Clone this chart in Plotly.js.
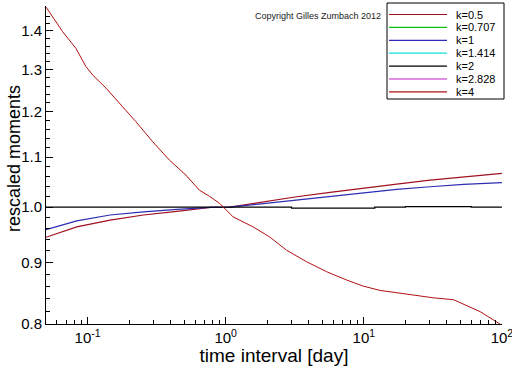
<!DOCTYPE html>
<html>
<head>
<meta charset="utf-8">
<script src="https://cdn.plot.ly/plotly-3.0.1.min.js"></script>
<style>html,body{margin:0;padding:0;background:#fff;}#chart{width:512px;height:366px;}</style>
</head>
<body>
<div id="chart"></div>
<script>
// k = 0.5 (rising dark-red curve)
const xK05 = [0.05, 0.0834, 0.1456, 0.254, 0.443, 0.774, 1.07, 1.86, 3.26, 5.69, 9.9, 17.3, 30.2, 52.7, 100];
const yK05 = [0.944, 0.963, 0.9754, 0.985, 0.992, 0.9994, 1.0, 1.0102, 1.020, 1.0285, 1.036, 1.045, 1.053, 1.060, 1.0666];
// k = 1 (blue)
const xK1 = [0.05, 0.0834, 0.1456, 0.254, 0.443, 0.774, 1.07, 1.86, 3.26, 5.69, 9.9, 17.3, 30.2, 52.7, 100];
const yK1 = [0.958, 0.974, 0.985, 0.991, 0.9955, 0.9995, 1.0, 1.007, 1.0135, 1.021, 1.0277, 1.0344, 1.0396, 1.0443, 1.048];
// k = 2 (black, flat)
const xK2 = [0.05, 0.3, 1.0, 2.5, 3.0, 10, 12, 20, 40, 60, 100];
const yK2 = [1.0, 1.0, 1.0, 1.0, 0.998, 0.998, 1.0, 1.001, 1.001, 1.0, 1.0];
// k = 4 (descending red curve)
const xK4 = [0.05, 0.0659, 0.0823, 0.0972, 0.1087, 0.136, 0.1795, 0.224, 0.296, 0.391, 0.515, 0.644, 0.762, 0.905, 1.13, 1.578, 2.08, 2.76, 3.85, 5.38, 7.52, 9.9, 13.1, 20.5, 31.9, 44.6, 55.8, 69.7, 87.1, 100];
const yK4 = [1.465, 1.398, 1.354, 1.308, 1.287, 1.255, 1.211, 1.177, 1.133, 1.094, 1.063, 1.033, 1.021, 1.007, 0.9816, 0.963, 0.9447, 0.921, 0.901, 0.884, 0.870, 0.860, 0.853, 0.847, 0.841, 0.838, 0.829, 0.819, 0.806, 0.798];

const legendNames = ['k=0.5', 'k=0.707', 'k=1', 'k=1.414', 'k=2', 'k=2.828', 'k=4'];
const xTickVals = [0.1, 1, 10, 100];
const xTickText = ['10<sup>-1</sup>', '10<sup>0</sup>', '10<sup>1</sup>', '10<sup>2</sup>'];
const xMinorVals = [0.06, 0.07, 0.08, 0.09, 0.2, 0.3, 0.4, 0.5, 0.6, 0.7, 0.8, 0.9, 2, 3, 4, 5, 6, 7, 8, 9, 20, 30, 40, 50, 60, 70, 80, 90];
const yTickVals = [0.8, 0.9, 1.0, 1.1, 1.2, 1.3, 1.4];
const yTickText = ['0.8', '0.9', '1.0', '1.1', '1.2', '1.3', '1.4'];
const yMinorVals = [0.82, 0.84, 0.86, 0.88, 0.92, 0.94, 0.96, 0.98, 1.02, 1.04, 1.06, 1.08, 1.12, 1.14, 1.16, 1.18, 1.22, 1.24, 1.26, 1.28, 1.32, 1.34, 1.36, 1.38, 1.42, 1.44];

const colors = ['#a01020', '#10c010', '#2c2cb4', '#10e0e0', '#000000', '#c020c0', '#b01010'];

const traces = [
  {x: xK05, y: yK05, name: legendNames[0], line: {color: colors[0], width: 1.2}},
  {x: xK1, y: yK1, name: legendNames[2], line: {color: colors[2], width: 1.2}},
  {x: xK2, y: yK2, name: legendNames[4], line: {color: colors[4], width: 1.2, shape: 'hv'}},
  {x: xK4, y: yK4, name: legendNames[6], line: {color: colors[6], width: 1}}
].map(t => Object.assign({type: 'scatter', mode: 'lines', hoverinfo: 'skip', showlegend: false}, t));

// layout geometry (pixels)
const W = 512, H = 366, M = {l: 46, r: 10, t: 6, b: 42};
const pw = W - M.l - M.r, ph = H - M.t - M.b;
const px = v => (v - M.l) / pw;
const py = v => (H - M.b - v) / ph;

const font = 'Liberation Sans, Arial, sans-serif';
const shapes = [{
  type: 'rect', xref: 'paper', yref: 'paper',
  x0: px(387), x1: px(504), y0: py(99), y1: py(3),
  line: {color: '#000', width: 1}, fillcolor: '#ffffff', layer: 'above'
}];
const annotations = [{
  text: 'Copyright Gilles Zumbach 2012', xref: 'paper', yref: 'paper',
  x: px(318), y: py(16), xanchor: 'center', yanchor: 'middle', showarrow: false,
  font: {family: font, size: 9, color: '#222'}
}, {
  text: 'rescaled moments', xref: 'paper', yref: 'paper', textangle: -90,
  x: px(14), y: py(159), xanchor: 'center', yanchor: 'middle', showarrow: false,
  font: {family: font, size: 18, color: '#000'}
}];
legendNames.forEach((name, i) => {
  const yc = 14.5 + i * 12.9;
  shapes.push({type: 'line', xref: 'paper', yref: 'paper', x0: px(389), x1: px(447), y0: py(yc), y1: py(yc),
    line: {color: colors[i], width: 1.2}, layer: 'above'});
  annotations.push({text: name, xref: 'paper', yref: 'paper', x: px(455), y: py(yc),
    xanchor: 'left', yanchor: 'middle', showarrow: false, borderpad: 0,
    font: {family: font, size: 11, color: '#000'}});
});

const layout = {
  width: W, height: H,
  margin: M,
  paper_bgcolor: '#ffffff', plot_bgcolor: '#ffffff',
  font: {family: font, color: '#000'},
  showlegend: false,
  xaxis: {
    type: 'log', range: [Math.log10(0.05), 2.0005],
    showgrid: false, zeroline: false,
    showline: true, linecolor: '#000', linewidth: 1, mirror: false,
    ticks: 'inside', ticklen: 7, tickwidth: 1, tickcolor: '#000',
    tickmode: 'array', tickvals: xTickVals, ticktext: xTickText,
    ticklabeloverflow: 'allow',
    tickfont: {family: font, size: 15, color: '#000'},
    minor: {tickmode: 'array', tickvals: xMinorVals, ticks: 'inside', ticklen: 4, tickcolor: '#000', showgrid: false},
    title: {text: 'time interval [day]', font: {family: font, size: 19, color: '#000'}, standoff: 4}
  },
  yaxis: {
    type: 'log', range: [Math.log10(0.8), Math.log10(1.468)],
    showgrid: false, zeroline: false,
    showline: true, linecolor: '#000', linewidth: 1, mirror: false,
    ticks: 'inside', ticklen: 7, tickwidth: 1, tickcolor: '#000',
    tickmode: 'array', tickvals: yTickVals, ticktext: yTickText,
    tickfont: {family: font, size: 15, color: '#000'},
    minor: {tickmode: 'array', tickvals: yMinorVals, ticks: 'inside', ticklen: 4, tickcolor: '#000', showgrid: false}
  },
  shapes: shapes,
  annotations: annotations
};

Plotly.newPlot('chart', traces, layout, {staticPlot: true, displayModeBar: false});
</script>
</body>
</html>
